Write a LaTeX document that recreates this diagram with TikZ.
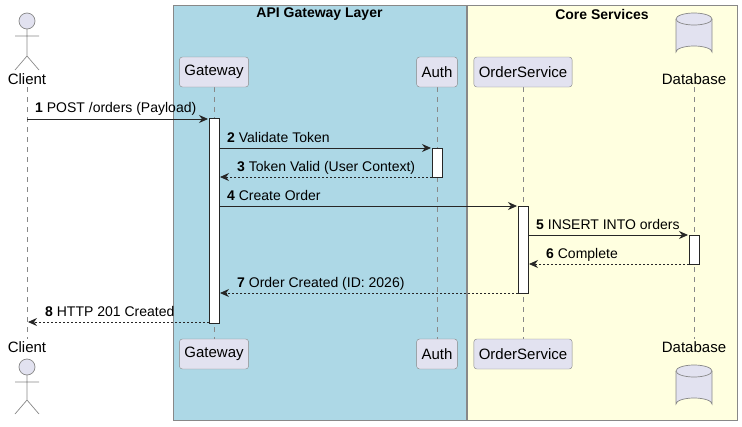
\documentclass[tikz,border=0pt]{standalone}
\usepackage{fontspec}
\setmainfont{Liberation Sans}
\usetikzlibrary{arrows.meta,shapes.geometric}
\definecolor{part}{HTML}{E2E2F0}
\definecolor{edge}{HTML}{888888}
\definecolor{gwbox}{HTML}{ADD8E6}
\definecolor{csbox}{HTML}{FFFFE0}
\tikzset{
 lbl/.style={font=\fontsize{14}{16}\selectfont, inner sep=0pt},
 big/.style={font=\fontsize{15}{17}\selectfont},
 pbox/.style={draw=edge, fill=part, rounded corners=3pt, minimum height=30pt, inner sep=5pt, big},
 life/.style={draw=edge, dash pattern=on 5pt off 5pt, line width=0.6pt},
 act/.style={draw=black!85, fill=white, line width=0.6pt},
 msg/.style={draw=black!85, line width=0.8pt, -{Stealth[length=9pt,width=8pt,inset=3pt]}},
 ret/.style={msg, dash pattern=on 2pt off 2pt},
 grp/.style={draw=edge, line width=0.6pt},
 actor/.style={draw=edge, line width=0.7pt},
 cyl/.style={draw=edge, fill=part, line width=0.7pt},
}
\begin{document}
\begin{tikzpicture}[x=1pt,y=-1pt]
\useasboundingbox (0,0) rectangle (742,426);
% groups
\fill[gwbox] (173,5) rectangle (466,420);
\draw[grp] (173,5) rectangle (466,420);
\fill[csbox] (467,5) rectangle (737,420);
\draw[grp] (467,5) rectangle (737,420);
\node[lbl, font=\bfseries\fontsize{14}{16}\selectfont] (g1) at (319.5,14) {API Gateway Layer};
\node[lbl, font=\bfseries\fontsize{14}{16}\selectfont] (g2) at (602,14) {Core Services};
% lifelines
\coordinate (cT) at (27,87); \coordinate (cB) at (27,339);
\draw[life] (cT) -- (cB);
\draw[life] (214,87) -- (214,339);
\draw[life] (437,87) -- (437,339);
\draw[life] (523,87) -- (523,339);
\draw[life] (694,87) -- (694,339);
% participants
\node[pbox] (gwT) at (214,72) {Gateway};
\node[pbox] (auT) at (437,72) {Auth};
\node[pbox] (osT) at (523,72) {OrderService};
\node[pbox] (gwB) at (214,354) {Gateway};
\node[pbox] (auB) at (437,354) {Auth};
\node[pbox] (osB) at (523,354) {OrderService};
% actor top
\draw[actor, fill=part] (27,21) circle (8);
\draw[actor] (27,29) -- (27,56) (15,36) -- (39,36) (27,56) -- (15,70) (27,56) -- (39,70);
\node[lbl, big] (clT) at (27,79) {Client};
\node[lbl, big] (clB) at (27,347) {Client};
\draw[actor, fill=part] (27,367) circle (8);
\draw[actor] (27,375) -- (27,400) (15,382) -- (39,382) (27,400) -- (15,414) (27,400) -- (39,414);
% database cylinders
\draw[cyl] (676,19) -- (676,52) arc[start angle=180,end angle=360,x radius=18,y radius=6] -- (712,19);
\draw[cyl] (694,19) ellipse (18 and 6);
\node[lbl, big] (dbT) at (694,79) {Database};
\draw[cyl] (676,371) -- (676,404) arc[start angle=180,end angle=360,x radius=18,y radius=6] -- (712,371);
\draw[cyl] (694,371) ellipse (18 and 6);
\node[lbl, big] (dbB) at (694,347) {Database};
% activations
\draw[act] (209,118) rectangle (219,323);
\draw[act] (432,148) rectangle (442,177);
\draw[act] (518,206) rectangle (528,293);
\draw[act] (689,235) rectangle (699,264);
% messages
\coordinate (m1a) at (27,119); \coordinate (m1b) at (208,119);
\draw[msg] (m1a) -- (m1b);
\node[lbl, anchor=base west] (t1) at (35,112) {\textbf{1} POST /orders (Payload)};
\coordinate (m2a) at (219,148); \coordinate (m2b) at (431,148);
\draw[msg] (m2a) -- (m2b);
\node[lbl, anchor=base west] (t2) at (227,142) {\textbf{2} Validate Token};
\coordinate (m3a) at (432,177); \coordinate (m3b) at (220,177);
\draw[ret] (m3a) -- (m3b);
\node[lbl, anchor=base west] (t3) at (237,171) {\textbf{3} Token Valid (User Context)};
\coordinate (m4a) at (219,206); \coordinate (m4b) at (517,206);
\draw[msg] (m4a) -- (m4b);
\node[lbl, anchor=base west] (t4) at (227,200) {\textbf{4} Create Order};
\coordinate (m5a) at (528,235); \coordinate (m5b) at (688,235);
\draw[msg] (m5a) -- (m5b);
\node[lbl, anchor=base west] (t5) at (536,229) {\textbf{5} INSERT INTO orders};
\coordinate (m6a) at (689,264); \coordinate (m6b) at (529,264);
\draw[ret] (m6a) -- (m6b);
\node[lbl, anchor=base west] (t6) at (546,258) {\textbf{6} Complete};
\coordinate (m7a) at (518,293); \coordinate (m7b) at (220,293);
\draw[ret] (m7a) -- (m7b);
\node[lbl, anchor=base west] (t7) at (237,287) {\textbf{7} Order Created (ID: 2026)};
\coordinate (m8a) at (209,322); \coordinate (m8b) at (28,322);
\draw[ret] (m8a) -- (m8b);
\node[lbl, anchor=base west] (t8) at (45,316) {\textbf{8} HTTP 201 Created};
\end{tikzpicture}
\end{document}
